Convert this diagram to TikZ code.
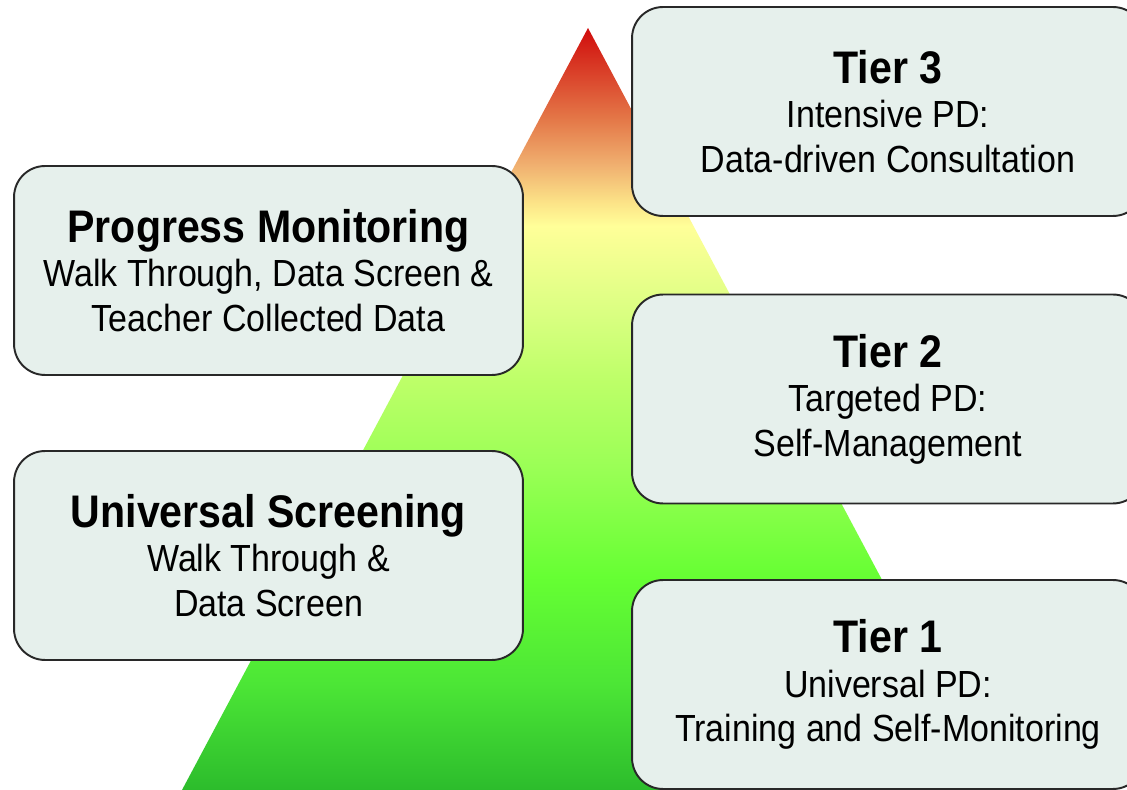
\documentclass[tikz,border=0pt]{standalone}
\usepackage{fontspec}
\setmainfont{Liberation Sans}[FakeStretch=0.9]
\usetikzlibrary{shapes.misc}

% pyramid colours, bottom (25bp) to top (75bp)
\pgfdeclareverticalshading{tiershade}{100bp}{%
  color(0bp)=(rgb,255:red,44;green,188;blue,44);
  color(25bp)=(rgb,255:red,44;green,188;blue,44);
  color(32bp)=(rgb,255:red,76;green,230;blue,54);
  color(39bp)=(rgb,255:red,102;green,255;blue,51);
  color(46bp)=(rgb,255:red,153;green,255;blue,85);
  color(52bp)=(rgb,255:red,190;green,255;blue,105);
  color(56bp)=(rgb,255:red,216;green,255;blue,128);
  color(62bp)=(rgb,255:red,255;green,255;blue,153);
  color(63.5bp)=(rgb,255:red,252;green,228;blue,136);
  color(66bp)=(rgb,255:red,240;green,176;blue,112);
  color(69bp)=(rgb,255:red,228;green,120;blue,72);
  color(75bp)=(rgb,255:red,208;green,12;blue,12);
  color(100bp)=(rgb,255:red,208;green,12;blue,12)}

\definecolor{boxfill}{RGB}{230,240,236}
\definecolor{boxline}{RGB}{40,40,40}

\tikzstyle{tierbox}=[draw=boxline, fill=boxfill, line width=1.1pt,
  rounded corners=0.62cm, inner sep=0pt, align=center,
  minimum height=4.18cm, font=\fontsize{21.5}{25.3}\selectfont]
\tikzstyle{rightbox}=[tierbox, minimum width=10.24cm]
\tikzstyle{leftbox}=[tierbox, minimum width=10.18cm]

\newcommand{\boxhead}[1]{{\fontsize{26}{25.3}\selectfont\bfseries #1}}

\begin{document}
\begin{tikzpicture}[x=0.02cm, y=-0.02cm]
\useasboundingbox (0,0) rectangle (1127,790);
% Pyramid
    \shade[shading=tiershade] (588,28) -- (994,790) -- (182,790) -- cycle;
% Tiers (right)
    \node[rightbox] (tier3) at (888,111.5)
      {\boxhead{Tier 3}\\Intensive PD:\\Data-driven Consultation};
    \node[rightbox] (tier2) at (888,399)
      {\boxhead{Tier 2}\\Targeted PD:\\Self-Management};
    \node[rightbox] (tier1) at (888,684.5)
      {\boxhead{Tier 1}\\Universal PD:\\Training and Self-Monitoring};
% Assessment (left)
    \node[leftbox] (progress) at (268.5,270.5)
      {\boxhead{Progress Monitoring}\\Walk Through, Data Screen \&\\Teacher Collected Data};
    \node[leftbox] (screening) at (268.5,555.5)
      {\boxhead{Universal Screening}\\Walk Through \&\\Data Screen};
\end{tikzpicture}
\end{document}
